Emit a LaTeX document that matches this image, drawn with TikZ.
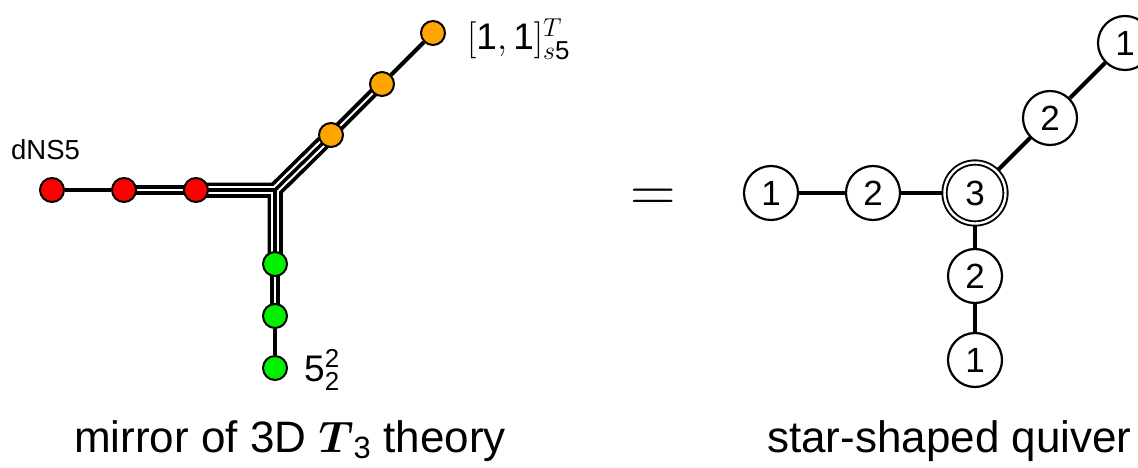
\RequirePackage{fix-cm}
\documentclass[tikz,border=0pt]{standalone}
\usepackage{amsmath}
\usepackage{fontspec}
\setmainfont{Liberation Sans}
\pgfdeclarelayer{bg}
\pgfsetlayers{bg,main}
\definecolor{dotred}{HTML}{FF0000}
\definecolor{dotgreen}{HTML}{00F000}
\definecolor{dotorange}{HTML}{FFA500}
\begin{document}
\begin{tikzpicture}[x=1pt,y=-1pt,
  dot/.style={circle, draw=black, line width=2pt, minimum size=24pt, inner sep=0pt},
  qn/.style={circle, draw=black, fill=white, line width=2.2pt, minimum size=54pt, inner sep=0pt, font=\fontsize{35}{42}\selectfont},
  qnd/.style={circle, draw=black, fill=white, line width=1.9pt, double=white, double distance=2.4pt, minimum size=61pt, inner sep=0pt, font=\fontsize{35}{42}\selectfont},
  qlink/.style={line width=4pt},
  sgl/.style={line width=4pt},
  dbl/.style={draw=black, double=white, double distance=2pt, line width=3.8pt},
  lbl/.style={inner sep=0pt, font=\fontsize{27.5}{32}\selectfont},
  mlbl/.style={inner sep=0pt, font=\fontsize{37}{44}\selectfont},
  captext/.style={inner sep=0pt, font=\fontsize{44}{52}\selectfont}]
\useasboundingbox (0,0) rectangle (1138,468);

% left diagram nodes
\node[dot, fill=dotred] (r1) at (52,190) {};
\node[dot, fill=dotred] (r2) at (124,190) {};
\node[dot, fill=dotred] (r3) at (196,190) {};
\node[dot, fill=dotgreen] (g1) at (275,264) {};
\node[dot, fill=dotgreen] (g2) at (275,316) {};
\node[dot, fill=dotgreen] (g3) at (275,368) {};
\node[dot, fill=dotorange] (o1) at (331,135) {};
\node[dot, fill=dotorange] (o2) at (382,84) {};
\node[dot, fill=dotorange] (o3) at (433,33) {};
\coordinate (J) at (275,190);

\begin{pgfonlayer}{bg}
  \foreach \w/\c in {15/black, 7.5/white, 3.2/black} {
    \draw[line width=\w pt, \c, line join=miter] (r3.center) -- (J) -- (o1.center);
    \draw[line width=\w pt, \c, line join=miter] (r3.center) -- (J) -- (g1.center);
    \draw[line width=\w pt, \c, line join=miter] (g1.center) -- (J) -- (o1.center);
  }
  \draw[dbl] (r2.center) -- (r3.center);
  \draw[dbl] (g1.center) -- (g2.center);
  \draw[dbl] (o1.center) -- (o2.center);
  \draw[sgl] (r1) -- (r2);
  \draw[sgl] (g2) -- (g3);
  \draw[sgl] (o2) -- (o3);
\end{pgfonlayer}

\node[lbl, anchor=base west] (dns) at (11,160) {dNS5};
\node[mlbl, anchor=base west] (s5) at (467,50) {$[\text{1},\text{1}]^{T}_{s\text{5}}$};
\node[mlbl, anchor=base west] (f22) at (304,381) {5$^{\text{2}}_{\text{2}}$};

% equal sign
\node[inner sep=0pt, font=\fontsize{63}{70}\selectfont, anchor=base] (eq) at (653,211) {$=$};

% quiver
\node[qn] (q1l) at (771,193) {1};
\node[qn] (q2l) at (873,193) {2};
\node[qnd] (q3) at (975,193) {3};
\node[qn] (q2d) at (975,276) {2};
\node[qn] (q1d) at (975,360) {1};
\node[qn] (q2u) at (1050,118) {2};
\node[qn] (q1u) at (1125,43) {1};
\begin{pgfonlayer}{bg}
  \draw[qlink] (q1l) -- (q2l);
  \draw[qlink] (q2l.center) -- (q3.center);
  \draw[qlink] (q3.center) -- (q2d.center);
  \draw[qlink] (q2d) -- (q1d);
  \draw[qlink] (q3.center) -- (q2u.center);
  \draw[qlink] (q2u) -- (q1u);
\end{pgfonlayer}

% captions
\node[captext, anchor=base west] (c1) at (74,452) {mirror of 3D $\boldsymbol{T}_{\text{3}}$ theory};
\node[captext, anchor=base west] (c2) at (767,452) {star-shaped quiver};
\end{tikzpicture}
\end{document}
